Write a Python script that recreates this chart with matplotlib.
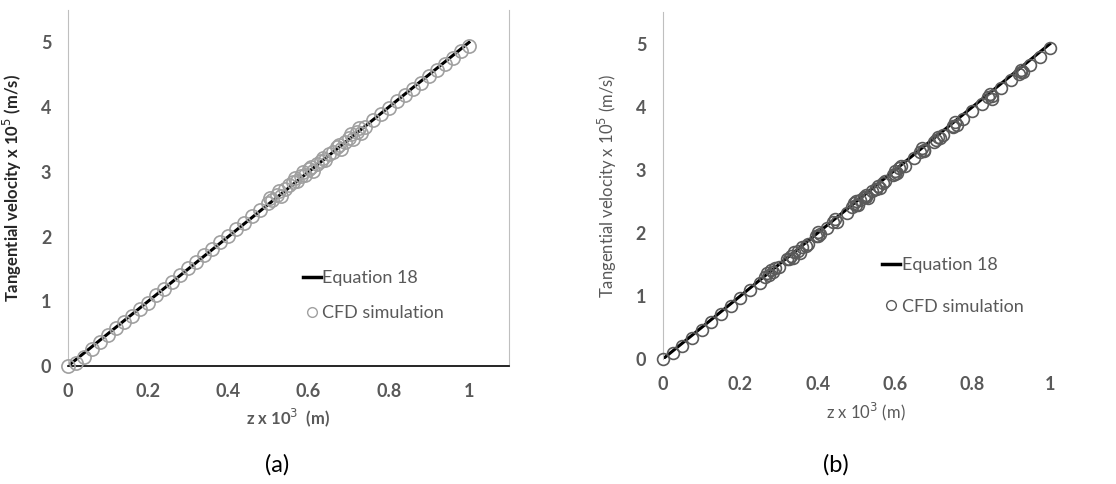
import matplotlib
matplotlib.use("Agg")
import matplotlib.pyplot as plt
from matplotlib.lines import Line2D

plt.rcParams['font.family'] = ['Lato', 'DejaVu Sans']

# ---- panel (a) data ----
eq_x = [0, 1.0]
eq_y = [0, 5.0]

xa = [0, 0.02, 0.04, 0.06, 0.08, 0.10, 0.12, 0.14, 0.16, 0.18, 0.20, 0.22, 0.24,
      0.26, 0.28, 0.30, 0.32, 0.34, 0.36, 0.38, 0.40, 0.42, 0.44, 0.46, 0.48,
      0.50, 0.505, 0.51, 0.52, 0.525, 0.53, 0.54, 0.55, 0.56, 0.565, 0.57, 0.58,
      0.585, 0.59, 0.60, 0.605, 0.61, 0.62, 0.63, 0.635, 0.64, 0.65, 0.66, 0.67,
      0.675, 0.68, 0.69, 0.70, 0.705, 0.71, 0.72, 0.725, 0.73, 0.74,
      0.76, 0.78, 0.80, 0.82, 0.84, 0.86, 0.88, 0.90, 0.92, 0.94, 0.96, 0.98, 1.00]
ya = [0, 0.04, 0.14, 0.26, 0.37, 0.48, 0.58, 0.68, 0.78, 0.88, 0.98, 1.09, 1.19,
      1.30, 1.40, 1.51, 1.61, 1.71, 1.81, 1.91, 2.01, 2.11, 2.21, 2.31, 2.41,
      2.52, 2.60, 2.56, 2.64, 2.70, 2.62, 2.74, 2.80, 2.84, 2.90, 2.86, 2.94,
      3.00, 2.95, 3.04, 3.08, 3.02, 3.12, 3.16, 3.22, 3.18, 3.28, 3.30, 3.38,
      3.42, 3.36, 3.46, 3.52, 3.58, 3.50, 3.62, 3.68, 3.60, 3.70,
      3.80, 3.90, 3.99, 4.09, 4.19, 4.28, 4.38, 4.48, 4.57, 4.67, 4.76, 4.86, 4.94]

# ---- panel (b) data ----
xb = [0, 0.025, 0.05, 0.075, 0.10, 0.125, 0.15, 0.175, 0.20, 0.225, 0.25, 0.30,
      0.325, 0.375, 0.40, 0.425, 0.475, 0.50, 0.525, 0.55, 0.575, 0.60, 0.625,
      0.65, 0.675, 0.70, 0.725, 0.75, 0.775, 0.80, 0.825, 0.85, 0.875, 0.90,
      0.925, 0.95, 0.975, 1.00,
      0.265, 0.27, 0.275, 0.28, 0.285, 0.29,
      0.32, 0.33, 0.335, 0.34, 0.35, 0.355, 0.36, 0.37,
      0.395, 0.40, 0.405,
      0.44, 0.445, 0.45,
      0.49, 0.495, 0.50, 0.505, 0.51, 0.52, 0.525, 0.53, 0.54, 0.55, 0.555, 0.56, 0.57,
      0.595, 0.60, 0.605, 0.61, 0.615,
      0.665, 0.67, 0.675,
      0.705, 0.71, 0.715, 0.75, 0.755, 0.76,
      0.84, 0.845, 0.85,
      0.92, 0.925, 0.93]
yb = [0, 0.09, 0.21, 0.34, 0.46, 0.59, 0.71, 0.84, 0.96, 1.09, 1.21, 1.46,
      1.58, 1.83, 1.95, 2.08, 2.32, 2.45, 2.57, 2.70, 2.82, 2.94, 3.07,
      3.19, 3.31, 3.44, 3.56, 3.68, 3.81, 3.93, 4.05, 4.18, 4.30, 4.42,
      4.55, 4.67, 4.80, 4.93,
      1.30, 1.36, 1.33, 1.42, 1.38, 1.45,
      1.58, 1.64, 1.60, 1.70, 1.72, 1.68, 1.78, 1.80,
      1.95, 2.02, 1.98,
      2.18, 2.22, 2.17,
      2.42, 2.47, 2.50, 2.45, 2.53, 2.57, 2.60, 2.55, 2.66, 2.70, 2.75, 2.72, 2.80,
      2.92, 2.98, 2.95, 3.03, 3.06,
      3.28, 3.35, 3.30,
      3.47, 3.53, 3.50, 3.70, 3.76, 3.72,
      4.15, 4.20, 4.12,
      4.52, 4.58, 4.55]

ticks_x = [0, 0.2, 0.4, 0.6, 0.8, 1]
ticks_x_lbl = ['0', '0.2', '0.4', '0.6', '0.8', '1']
ticks_y = [0, 1, 2, 3, 4, 5]

txt_gray = '#595959'
spine_gray = '#bfbfbf'

fig = plt.figure(figsize=(11.16, 4.84), dpi=100)

# ---------------- (a) ----------------
ax1 = fig.add_axes([0.0609, 0.2438, 0.3953, 0.7355])
ax1.plot(eq_x, eq_y, color='black', lw=2.2, zorder=2)
ax1.plot(xa, ya, ls='none', marker='o', ms=9.5, mfc='none', mec='#a0a0a0', mew=1.2,
         zorder=3, clip_on=False)
ax1.set_xlim(0, 1.1)
ax1.set_ylim(0, 5.5)
ax1.set_xticks(ticks_x)
ax1.set_xticklabels(ticks_x_lbl)
ax1.set_yticks(ticks_y)
ax1.tick_params(length=0, labelsize=13, labelcolor=txt_gray, pad=12)
for lbl in ax1.get_xticklabels() + ax1.get_yticklabels():
    lbl.set_fontweight('bold')
ax1.spines['top'].set_visible(False)
ax1.spines['left'].set_color(spine_gray)
ax1.spines['right'].set_color(spine_gray)
ax1.spines['bottom'].set_color('black')
ax1.spines['bottom'].set_linewidth(1.2)
ax1.set_xlabel(r'z x 10$^3$  (m)', fontsize=12, fontweight='bold', color=txt_gray, labelpad=5)
ax1.set_ylabel(r'Tangential velocity x 10$^5$ (m/s)', fontsize=12, fontweight='bold', color='#262626', labelpad=12)
h1 = [Line2D([], [], color='black', lw=2.5),
      Line2D([], [], ls='none', marker='o', ms=7, mfc='none', mec='#a0a0a0')]
ax1.legend(h1, ['Equation 18', 'CFD simulation'], frameon=False, loc='upper left',
           bbox_to_anchor=(0.495, 0.315), fontsize=13, labelcolor=txt_gray,
           handlelength=1.0, handletextpad=0.1, labelspacing=1.05)

# ---------------- (b) ----------------
ax2 = fig.add_axes([0.594, 0.2583, 0.364, 0.716])
ax2.plot(eq_x, eq_y, color='black', lw=2.2, zorder=2)
ax2.plot(xb, yb, ls='none', marker='o', ms=8.5, mfc='none', mec='#5a5a5a', mew=1.2,
         zorder=3, clip_on=False)
ax2.set_xlim(0, 1.05)
ax2.set_ylim(0, 5.5)
ax2.set_xticks(ticks_x)
ax2.set_xticklabels(ticks_x_lbl)
ax2.set_yticks(ticks_y)
ax2.tick_params(length=0, labelsize=13, labelcolor=txt_gray, pad=12)
for lbl in ax2.get_xticklabels() + ax2.get_yticklabels():
    lbl.set_fontweight('bold')
for s in ['top', 'right', 'bottom']:
    ax2.spines[s].set_visible(False)
ax2.spines['left'].set_color(spine_gray)
ax2.set_xlabel(r'z x 10$^3$ (m)', fontsize=12, color=txt_gray, labelpad=6)
ax2.set_ylabel(r'Tangential velocity x 10$^5$ (m/s)', fontsize=12, color=txt_gray, labelpad=12)
h2 = [Line2D([], [], color='black', lw=2.5),
      Line2D([], [], ls='none', marker='o', ms=7, mfc='none', mec='#5a5a5a')]
ax2.legend(h2, ['Equation 18', 'CFD simulation'], frameon=False, loc='upper left',
           bbox_to_anchor=(0.50, 0.34), fontsize=13, labelcolor=txt_gray,
           handlelength=1.0, handletextpad=0.1, labelspacing=1.4)

fig.text(0.248, 0.04, '(a)', fontsize=17, ha='center', va='center', color='black')
fig.text(0.749, 0.04, '(b)', fontsize=17, ha='center', va='center', color='black')

fig.savefig('out.png', dpi=100)
